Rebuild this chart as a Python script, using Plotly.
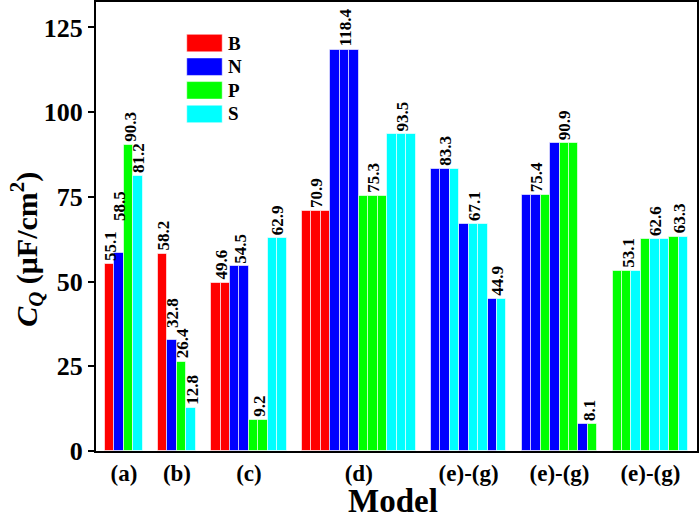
import plotly.graph_objects as go

# ---------------- data ----------------
series_names = ["B", "N", "P", "S"]
series_colors = {"B": "#FF0000", "N": "#0000FF", "P": "#00FF00", "S": "#00FFFF"}

group_labels = ["(a)", "(b)", "(c)", "(d)", "(e)-(g)", "(e)-(g)", "(e)-(g)"]

a_series = ["B", "N", "P", "S"]
a_values = [55.1, 58.5, 90.3, 81.2]

b_series = ["B", "N", "P", "S"]
b_values = [58.2, 32.8, 26.4, 12.8]

c_series = ["B", "B", "N", "N", "P", "P", "S", "S"]
c_values = [49.6, 49.6, 54.5, 54.5, 9.2, 9.2, 62.9, 62.9]

d_series = ["B", "B", "B", "N", "N", "N", "P", "P", "P", "S", "S", "S"]
d_values = [70.9, 70.9, 70.9, 118.4, 118.4, 118.4, 75.3, 75.3, 75.3, 93.5, 93.5, 93.5]

e1_series = ["N", "N", "S", "N", "S", "S", "N", "S"]
e1_values = [83.3, 83.3, 83.3, 67.1, 67.1, 67.1, 44.9, 44.9]

e2_series = ["N", "N", "P", "N", "P", "P", "N", "P"]
e2_values = [75.4, 75.4, 75.4, 90.9, 90.9, 90.9, 8.1, 8.1]

e3_series = ["P", "P", "S", "P", "S", "S", "P", "S"]
e3_values = [53.1, 53.1, 53.1, 62.6, 62.6, 62.6, 63.3, 63.3]

groups_series = [a_series, b_series, c_series, d_series, e1_series, e2_series, e3_series]
groups_values = [a_values, b_values, c_values, d_values, e1_values, e2_values, e3_values]

y_ticks = [0, 25, 50, 75, 100, 125]

x_title = "Model"
y_title = "<i>C</i><sub><i>Q</i></sub> (μF/cm<sup>2</sup>)"

# extra lift (px) of crowded value labels: (group index, run index) -> px
label_lift = {(0, 1): 29, (1, 1): 9}

# ---------------- layout of the category slots ----------------
GAP = 1.6
PAD_L = 0.95
PAD_R = 0.92

bar_x = {s: [] for s in series_names}
bar_y = {s: [] for s in series_names}
tick_pos = []
label_pos = []
cursor = 0.0
for g, (ser, vals) in enumerate(zip(groups_series, groups_values)):
    n = len(vals)
    for i, (s, v) in enumerate(zip(ser, vals)):
        bar_x[s].append(cursor + i + 0.5)
        bar_y[s].append(v)
    i = 0
    run = 0
    while i < n:
        j = i
        while j + 1 < n and vals[j + 1] == vals[i]:
            j += 1
        label_pos.append((cursor + (i + j + 1) / 2.0, vals[i], label_lift.get((g, run), 0)))
        i = j + 1
        run += 1
    tick_pos.append(cursor + n / 2.0)
    cursor += n + GAP
x_end = cursor - GAP

FONT = "Liberation Serif"

fig = go.Figure()
for s in series_names:
    fig.add_trace(go.Bar(
        x=bar_x[s], y=bar_y[s], width=1.0, name=s,
        marker=dict(color=series_colors[s],
                    line=dict(color="rgba(255,255,255,0.6)", width=1)),
        showlegend=False, hoverinfo="x+y",
    ))

annotations = []
for xp, v, lift in label_pos:
    annotations.append(dict(
        x=xp, y=v, xref="x", yref="y", text=f"{v:.1f}",
        showarrow=False, textangle=-90, xanchor="center", yanchor="bottom",
        xshift=1, yshift=2 + lift, borderpad=0,
        font=dict(family=FONT, size=17, color="black", weight="bold"),
    ))

# manual legend (wide swatches)
shapes = []
leg_x0, leg_x1 = 0.151, 0.210
leg_top = 0.928
leg_h = 0.039
leg_pitch = 0.0526
for k, s in enumerate(series_names):
    top = leg_top - k * leg_pitch
    shapes.append(dict(type="rect", xref="paper", yref="paper",
                       x0=leg_x0, x1=leg_x1, y0=top - leg_h, y1=top,
                       fillcolor=series_colors[s],
                       line=dict(color="rgba(255,255,255,0.5)", width=1)))
    annotations.append(dict(x=0.217, y=top - leg_h / 2, xref="paper", yref="paper",
                            text=s, showarrow=False, xanchor="left", yanchor="middle",
                            font=dict(family=FONT, size=19, color="black", weight="bold")))

# axis titles
annotations.append(dict(x=0.4934, y=-0.1537, xref="paper", yref="paper", text=x_title,
                        showarrow=False, xanchor="center", yanchor="bottom", borderpad=0,
                        font=dict(family=FONT, size=33, color="black", weight="bold")))
annotations.append(dict(x=-0.1148, y=0.448, xref="paper", yref="paper", text=y_title,
                        showarrow=False, textangle=-90, xanchor="center", yanchor="middle",
                        font=dict(family=FONT, size=30, color="black", weight="bold")))

fig.update_layout(
    width=700, height=520,
    margin=dict(l=96, r=3, t=2, b=69),
    paper_bgcolor="white", plot_bgcolor="white",
    barmode="overlay", bargap=0,
    annotations=annotations, shapes=shapes,
    font=dict(family=FONT, color="black"),
    xaxis=dict(
        range=[-PAD_L, x_end + PAD_R],
        tickmode="array", tickvals=tick_pos, ticktext=group_labels,
        ticks="", showline=True, mirror=True, linecolor="black", linewidth=2,
        showgrid=False, zeroline=False, automargin=False,
        tickfont=dict(family=FONT, size=23, color="black", weight="bold"),
    ),
    yaxis=dict(
        range=[0, 132.5],
        tickmode="array", tickvals=y_ticks,
        ticks="outside", ticklen=6, tickwidth=2, tickcolor="black",
        showline=True, mirror=True, linecolor="black", linewidth=2,
        showgrid=False, zeroline=False, automargin=False,
        tickfont=dict(family=FONT, size=26, color="black", weight="bold"),
    ),
)

fig.write_html("out.html", config={"displayModeBar": False},
               post_script="document.body.style.margin='0';")
